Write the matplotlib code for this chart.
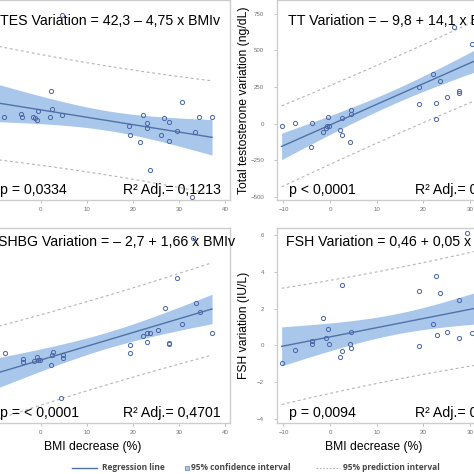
import numpy as np
import matplotlib
matplotlib.use("Agg")
import matplotlib.pyplot as plt
from matplotlib import font_manager
from matplotlib.lines import Line2D

# BMI decrease (%) and hormone variation per patient
tes_x = [-10.4, -8.0, -4.3, -4.2, -1.8, -1.2, -0.8, -0.6, 2.0, 2.3, 2.5, 4.5, 4.5,
         19.2, 19.3, 21.5, 22.1, 23.0, 23.0, 23.8, 26.0, 26.8, 27.8, 27.8, 29.5,
         30.6, 32.9, 33.6, 34.4, 37.2]
tes_y = [40, -4, 13, -1, -5, -13, -22, 36, -5, 166, 50, 655, 9,
         -62, -122, -164, 7, -42, -75, -346, -120, -7, -36, -160, -95,
         91, -518, -103, -4, -5]

tt_x = [-10.4, -7.6, -4.0, -3.8, -1.6, -0.9, -0.6, -0.5, -0.3, 2.1, 2.5, 2.6, 4.3,
        4.6, 4.6, 19.1, 19.1, 22.0, 22.8, 22.8, 23.6, 25.1, 26.6, 27.6, 27.6,
        30.4, 32.9, 33.6, 34.4, 37.2]
tt_y = [-20, 2, -159, 7, -61, -30, -20, 46, -16, -44, 41, -75, -125,
        96, 66, 248, 134, 342, 143, 32, 289, 182, 658, 225, 207,
        544, 560, 640, 500, 600]

shbg_x = [-10.4, -7.7, -3.9, -3.8, -1.6, -0.8, -0.7, -0.2, 2.2, 2.5, 2.6, 4.3, 4.7,
          4.7, 19.4, 19.4, 22.1, 23.0, 23.1, 23.8, 25.5, 26.9, 27.9, 27.9, 29.6,
          30.7, 33.0, 33.8, 34.6, 37.2]
shbg_y = [-12, 5.9, -1.7, -5.4, -4.2, 0.7, -3.3, -3.3, -9.4, 2.7, 6.4, -48.6, 2.7,
          -0.2, 15.2, 5.2, 26.1, 29.7, 18.5, 29.7, 33.4, 60.3, 18.0, 16.8, 95.9,
          40.3, 144.7, 66.0, 54.8, 29.4]

fsh_x = [-10.4, -7.6, -3.9, -3.8, -1.5, -0.9, -0.5, -0.3, 2.1, 2.5, 2.6, 4.3, 4.6,
         4.6, 19.1, 19.1, 22.0, 22.8, 22.9, 23.6, 25.1, 27.6, 27.6, 29.3, 30.4,
         32.9, 33.6, 34.4, 37.2]
fsh_y = [-0.94, -0.25, 0.25, 0.07, 1.47, 0.38, 0.87, 0.07, -0.62, -0.33, 3.29, 0.07, 0.75,
         -0.13, 2.96, -0.04, 1.16, 3.80, 0.58, 2.87, 0.75, 2.47, 0.38, 6.10, 0.67,
         0.2, 3.5, 1.0, 4.0]

# regression coefficients printed in the panels
tes_coef = (42.3, -4.75)
tt_coef = (-9.8, 14.1)
shbg_coef = (-2.7, 1.66)
fsh_coef = (0.46, 0.05)

titles = ["TES Variation = 42,3 \u2013 4,75 x BMIv",
          "TT Variation = \u2013 9,8 + 14,1 x BMIv",
          "SHBG Variation = \u2013 2,7 + 1,66 x BMIv",
          "FSH Variation = 0,46 + 0,05 x BMIv"]
p_texts = ["p = 0,0334", "p < 0,0001", "p = < 0,0001", "p = 0,0094"]
r2_texts = ["R\u00b2 Adj.= 0,1213", "R\u00b2 Adj.= 0,6108",
            "R\u00b2 Adj.= 0,4701", "R\u00b2 Adj.= 0,1858"]
y_labels = ["", "Total testosterone variation (ng/dL)", "", "FSH variation (IU/L)"]

T_CRIT = 2.05
BAND = "#a9c7ea"
LINE = "#4f72a8"
MARK = "#4a66a6"
FRAME = "#cdcdcd"

W = H = 474
plt.rcParams["font.family"] = ["Open Sans", "DejaVu Sans"]

installed = {f.name for f in font_manager.fontManager.ttflist}
if "Liberation Sans Narrow" in installed:
    head_family, head_size, xlab_size = "Liberation Sans Narrow", 12.3, 10.6
else:
    head_family, head_size, xlab_size = "Liberation Sans", 10.2, 8.7


def px_box(left, top, right, bottom):
    return [left / W, 1 - bottom / H, (right - left) / W, (bottom - top) / H]


def draw_panel(ax, x, y, coef):
    x = np.asarray(x, float)
    y = np.asarray(y, float)
    a, b = coef
    n = len(x)
    resid = y - (a + b * x)
    s = np.sqrt(np.sum(resid ** 2) / (n - 2))
    sxx = np.sum((x - x.mean()) ** 2)
    xs = np.linspace(x.min(), x.max(), 200)
    fit = a + b * xs
    se_mean = s * np.sqrt(1 / n + (xs - x.mean()) ** 2 / sxx)
    se_pred = np.sqrt(s ** 2 + se_mean ** 2)
    ax.fill_between(xs, fit - T_CRIT * se_mean, fit + T_CRIT * se_mean,
                    color=BAND, lw=0, zorder=1)
    for sign in (-1, 1):
        ax.plot(xs, fit + sign * T_CRIT * se_pred, color="#b4b4b4", lw=0.8,
                ls=(0, (2.5, 2.5)), zorder=2)
    ax.plot(xs, fit, color=LINE, lw=1.0, zorder=3)
    ax.plot(x, y, ls="none", marker="o", ms=3.0, mfc="none", mec=MARK,
            mew=0.7, zorder=4)


fig = plt.figure(figsize=(W / 100, H / 100), dpi=100)

cols = [(-12, 229.5), (276.5, 521)]
rows = [(0, 200), (228, 423)]
panels = [
    (tes_x, tes_y, tes_coef, (-538, 686), np.arange(-500, 751, 250)),
    (tt_x, tt_y, tt_coef, (-523, 845), np.arange(-500, 751, 250)),
    (shbg_x, shbg_y, shbg_coef, (-79, 157), np.arange(-50, 151, 50)),
    (fsh_x, fsh_y, fsh_coef, (-4.24, 6.4), np.arange(-4, 7, 2)),
]

for i, (x, y, coef, ylim, yticks) in enumerate(panels):
    r, c = divmod(i, 2)
    left, right = cols[c]
    top, bottom = rows[r]
    ax = fig.add_axes(px_box(left, top, right, bottom))
    draw_panel(ax, x, y, coef)
    ax.set_xlim(-11.5, 41)
    ax.set_ylim(*ylim)
    ax.set_xticks([-10, 0, 10, 20, 30, 40])
    ax.set_yticks(yticks)
    for sp in ax.spines.values():
        sp.set_color(FRAME)
        sp.set_linewidth(1.0)
    ax.tick_params(length=2, width=0.6, color="#b8b8b8", labelsize=4.4,
                   labelcolor="#707070")
    ax.tick_params(axis="x", pad=3.2)
    ax.tick_params(axis="y", pad=7)
    for lbl in ax.get_xticklabels() + ax.get_yticklabels():
        lbl.set_family(head_family)

    width_px = right - left
    height_px = bottom - top
    title_base = 25 if r == 0 else 18.5
    title_off = 12 if r == 0 else 9.5
    ax.annotate(titles[i], xy=(0, 1), xycoords="axes fraction",
                xytext=(title_off, -title_base), textcoords="offset pixels",
                ha="left", va="baseline", family=head_family, size=head_size)
    ax.annotate(p_texts[i], xy=(0, 0), xycoords="axes fraction",
                xytext=(12.5, 6), textcoords="offset pixels",
                ha="left", va="baseline", family=head_family, size=head_size)
    ax.annotate(r2_texts[i], xy=(1, 0), xycoords="axes fraction",
                xytext=(-8.5, 6), textcoords="offset pixels",
                ha="right", va="baseline", family=head_family, size=head_size)

    if y_labels[i]:
        ax.set_ylabel(y_labels[i], family="Liberation Sans", size=8.7)
        ax.yaxis.set_label_coords(-26.5 / width_px, 0.5)
    if r == 1:
        ax.set_xlabel("BMI decrease (%)", family=head_family, size=xlab_size)
        label_x = (93 - left) / width_px if c == 0 else (374 - left) / width_px
        ax.xaxis.set_label_coords(label_x, -18 / height_px)

# legend row under the panels
leg_kw = dict(frameon=False, borderpad=0, borderaxespad=0,
              loc="center left", labelcolor="#474747",
              prop={"family": ["Open Sans", "DejaVu Sans"], "weight": "bold",
                    "size": 6.0})
leg_y = 1 - 468 / H
reg_handle = Line2D([], [], color=LINE, lw=1.0)
ci_handle = Line2D([], [], ls="none", marker="s", ms=3.2, mfc=BAND, mec="#7f8fa6",
                   mew=0.6)
pi_handle = Line2D([], [], color="#b4b4b4", lw=0.8, ls=(0, (1.5, 1.5)))
fig.legend([reg_handle], ["Regression line"], bbox_to_anchor=(72 / W, leg_y),
           handlelength=3.0, handletextpad=0.6, **leg_kw)
fig.legend([ci_handle], ["95% confidence interval"], bbox_to_anchor=(185 / W, leg_y),
           handlelength=0.5, handletextpad=0.25, **leg_kw)
fig.legend([pi_handle], ["95% prediction interval"], bbox_to_anchor=(316 / W, leg_y),
           handlelength=2.9, handletextpad=0.36, **leg_kw)

fig.savefig("out.png", dpi=100, facecolor="white")
